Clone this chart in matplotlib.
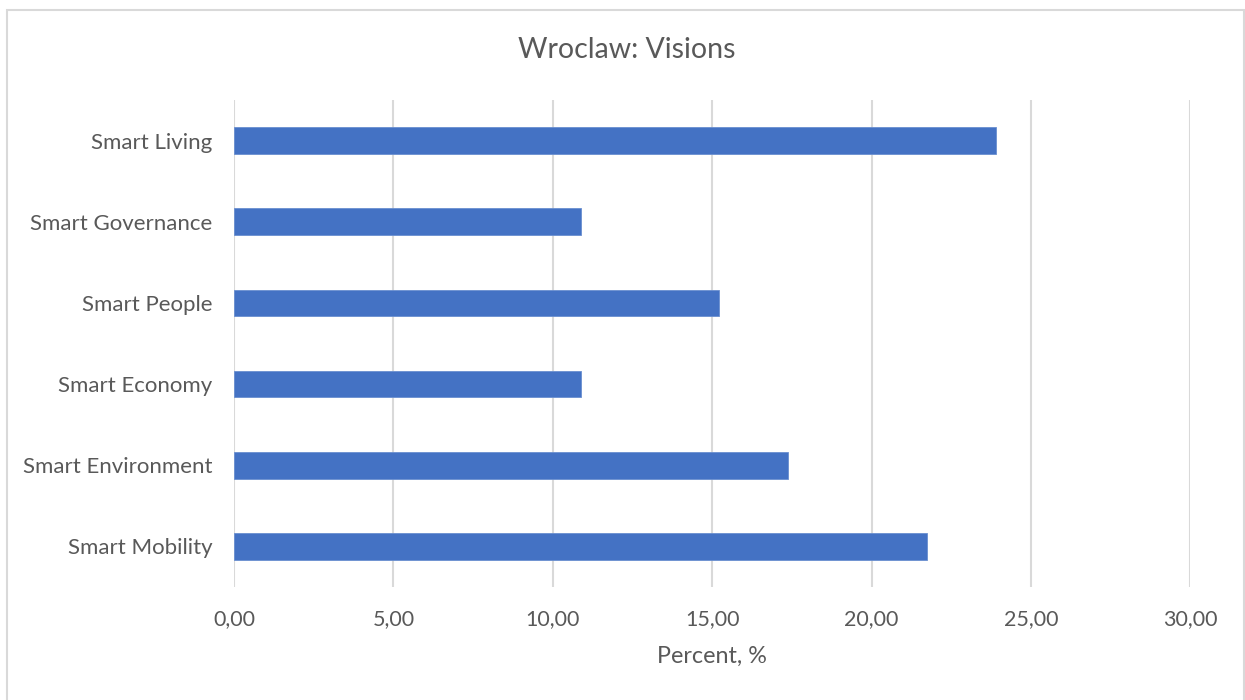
import matplotlib
matplotlib.use("Agg")
import matplotlib.pyplot as plt
from matplotlib.patches import Rectangle
from matplotlib.ticker import FuncFormatter

# Share of vision statements per smart-city dimension (percent)
categories = ["Smart Mobility", "Smart Environment", "Smart Economy",
              "Smart People", "Smart Governance", "Smart Living"]
percent = [21.74, 17.39, 10.87, 15.22, 10.87, 23.91]
x_ticks = [0, 5, 10, 15, 20, 25, 30]

plt.rcParams['font.family'] = ['Lato', 'DejaVu Sans']
text_grey = '#595959'

fig = plt.figure(figsize=(12.45, 7.0), dpi=100)
ax = fig.add_axes([0.188, 0.1614, 0.768, 0.6957])

# outer chart frame
fig.patches.append(Rectangle((7 / 1245, -0.05), 1236.5 / 1245, 1.05 - 10 / 700,
                             transform=fig.transFigure, fill=False,
                             edgecolor='#d9d9d9', linewidth=1.5))

y = range(len(categories))
ax.barh(y, percent, height=0.33, color='#4472c4', edgecolor='#6a8fd0',
        linewidth=0.6, zorder=3)

ax.set_xlim(0, 30)
ax.set_ylim(-0.5, len(categories) - 0.5)
ax.set_xticks(x_ticks)
ax.xaxis.set_major_formatter(FuncFormatter(lambda v, p: f"{v:.2f}".replace('.', ',')))
ax.set_yticks(list(y))
ax.set_yticklabels(categories)

ax.grid(axis='x', color='#d9d9d9', linewidth=1.5, zorder=0)
for s in ax.spines.values():
    s.set_visible(False)
ax.tick_params(axis='x', length=0, labelsize=15.5, labelcolor=text_grey, pad=16)
ax.tick_params(axis='y', length=0, labelsize=16, labelcolor=text_grey, pad=15.5)

ax.set_xlabel("Percent, %", fontsize=16.8, color=text_grey, labelpad=12)
fig.text(0.5035, 0.928, "Wroclaw: Visions", ha='center', va='center',
         fontsize=20.5, color=text_grey)

fig.savefig("out.png", dpi=100)
